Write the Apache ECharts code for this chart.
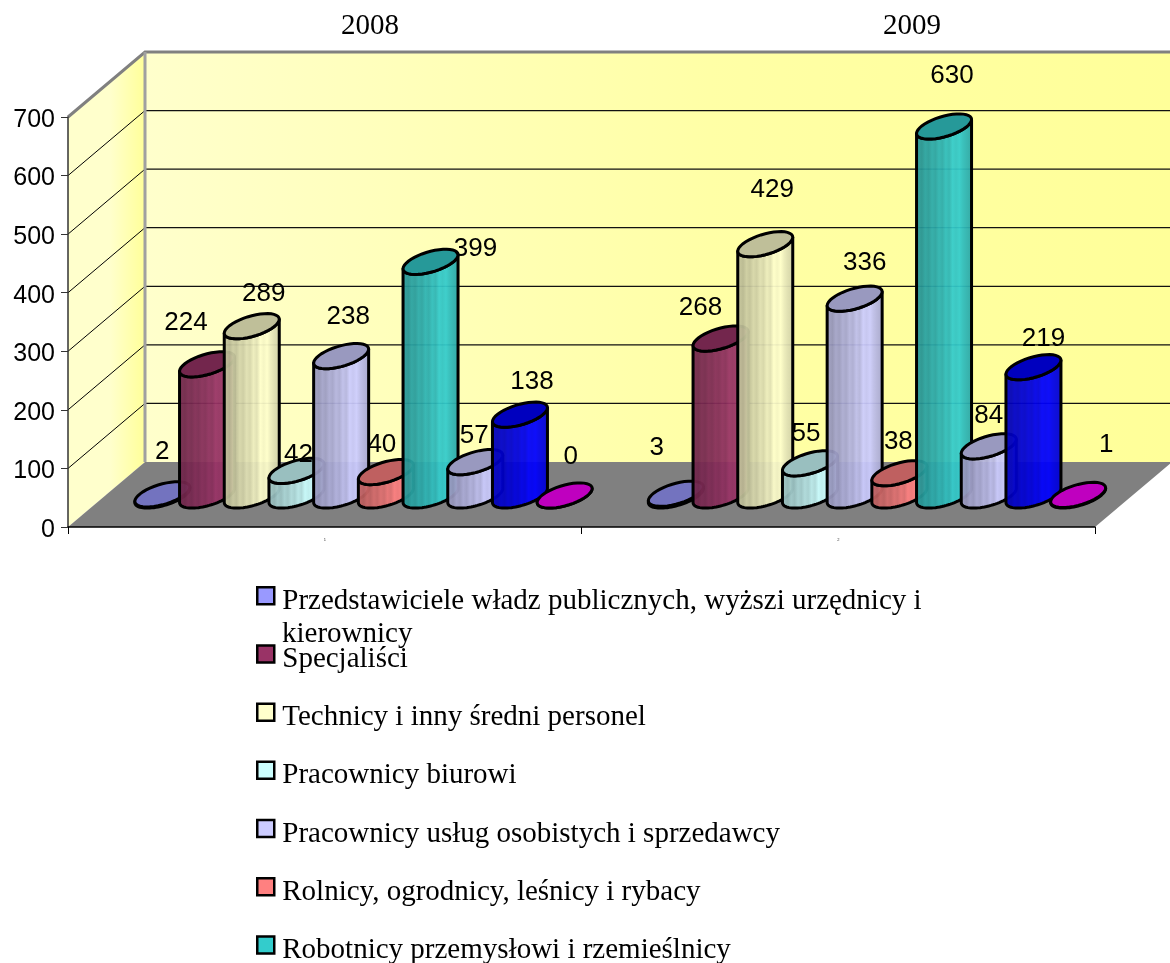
<!DOCTYPE html>
<html><head><meta charset="utf-8">
<style>html,body{margin:0;padding:0;background:#fff}#c{width:1170px;height:963px}</style>
<script src="https://cdn.jsdelivr.net/npm/echarts@6/dist/echarts.min.js"></script>
</head><body><div id="c"></div>
<script>
const categories = ['2008', '2009'];
const tickLabels = ['1', '2'];
const yTicks = [0, 100, 200, 300, 400, 500, 600, 700];
const seriesNames = [
  'Przedstawiciele władz publicznych, wyższi urzędnicy i',
  'Specjaliści',
  'Technicy i inny średni personel',
  'Pracownicy biurowi',
  'Pracownicy usług osobistych i sprzedawcy',
  'Rolnicy, ogrodnicy, leśnicy i rybacy',
  'Robotnicy przemysłowi i rzemieślnicy',
  'Seria 8', 'Seria 9', 'Seria 10'
];
const values2008 = [2, 224, 289, 42, 238, 40, 399, 57, 138, 0];
const values2009 = [3, 268, 429, 55, 336, 38, 630, 84, 219, 1];
const colors = ['#9999FF', '#993366', '#FFFFCC', '#CCFFFF', '#CCCCFF', '#FF8080', '#33CCCC', '#CCCCFF', '#0000FF', '#FF00FF'];
// label nudges from the top centre of each cylinder
const nudge2008 = [[0,-46],[-21,-45],[12,-36],[2,-20],[7,-43],[-4,-31],[45,-16],[-1,-30],[12,-36],[6,-42]];
const nudge2009 = [[-19,-49],[-20,-34],[7,-58],[-4,-33],[10,-39],[-1,-35],[8,-54],[0,-34],[10,-32],[28,-54]];
const legendRows = [597.5, 655.7, 713.9, 772.1, 830.3, 888.5, 946.7];

const DX = 77, DY = 65;        // 3D depth of the box
const BAR_DX = 38.75, BAR_DY = 31.5, STEP = 44.7, A = 27.5, B = 10.5, K = 7;
const shade = [.72,.76,.72,.8,.76,.84,.8,.88,.84,.93,.88,1,.96,1,.93,.88,.84,.78];
const sans = '"Liberation Sans", Arial, sans-serif';
const serif = '"Liberation Serif", "Times New Roman", serif';

function mix(hex, f, a) {
  const n = parseInt(hex.slice(1), 16);
  return 'rgba(' + [(n >> 16) & 255, (n >> 8) & 255, n & 255].map(v => Math.round(v * f)).join(',') + ',' + a + ')';
}
function arc(cx, cy, from, to) {
  const pts = [];
  for (let s = 0; s <= 40; s++) {
    const t = from + (to - from) * s / 40;
    pts.push([cx + A * Math.cos(t), cy + B * Math.sin(t) - K * Math.cos(t)]);
  }
  return pts;
}
function cylinder(i) {
  const vals = [values2008[i], values2009[i]], nudges = [nudge2008[i], nudge2009[i]];
  return (params, api) => {
    const c = params.dataIndex, top = api.coord([c, vals[c]]), zero = api.coord([c, 0]);
    const cx = top[0] + (i - 4.5) * STEP + BAR_DX, baseY = zero[1] - BAR_DY, topY = top[1] - BAR_DY;
    const stops = shade.map((f, k) => ({ offset: k / (shade.length - 1), color: mix(colors[i], f, .94) }));
    const body = arc(cx, baseY, Math.PI, 0).concat(arc(cx, topY, 0, Math.PI));
    return { type: 'group', children: [
      { type: 'polygon', shape: { points: body },
        style: { fill: { type: 'linear', x: 0, y: 0, x2: 1, y2: 0, colorStops: stops }, stroke: '#000', lineWidth: 3, lineJoin: 'round' } },
      { type: 'polygon', shape: { points: arc(cx, topY, 0, Math.PI * 2) },
        style: { fill: mix(colors[i], .75, 1), stroke: '#000', lineWidth: 3 } },
      { type: 'text', z2: 100, x: cx + nudges[c][0], y: topY + nudges[c][1] + 3.5,
        style: { text: String(vals[c]), fill: '#000', font: '26px ' + sans, align: 'center', verticalAlign: 'middle' } }
    ] };
  };
}
function box(params, api) {
  const g = params.coordSys, x0 = g.x, x1 = g.x + g.width;
  const y0 = api.coord([0, 0])[1], yT = api.coord([0, 700])[1];
  const xb = x0 + DX, yb = y0 - DY, ybT = yT - DY;
  const kids = [
    { type: 'polygon', shape: { points: [[xb, ybT], [x1 + DX, ybT], [x1 + DX, yb], [xb, yb]] },
      style: { fill: { type: 'linear', x: 0, y: 0, x2: 1, y2: 0, colorStops: [{ offset: 0, color: '#FFFFCC' }, { offset: .55, color: '#FFFFA6' }, { offset: 1, color: '#FFFF99' }] } } },
    { type: 'polygon', shape: { points: [[x0, yT], [xb, ybT], [xb, yb], [x0, y0]] },
      style: { fill: { type: 'linear', x: 0, y: 0, x2: 1, y2: 0, colorStops: [{ offset: 0, color: '#FFFFCC' }, { offset: .55, color: '#FFFFCC' }, { offset: 1, color: '#FFFF99' }] } } },
    { type: 'polygon', shape: { points: [[x0, y0], [x1, y0], [x1 + DX, yb], [xb, yb]] }, style: { fill: '#808080' } }
  ];
  yTicks.slice(1, -1).forEach(v => {
    const y = api.coord([0, v])[1];
    kids.push({ type: 'line', shape: { x1: x0, y1: y, x2: xb, y2: y - DY }, style: { stroke: '#000', lineWidth: 1 } });
    kids.push({ type: 'line', shape: { x1: xb, y1: y - DY, x2: x1 + DX, y2: y - DY }, style: { stroke: '#111', lineWidth: 1.2 } });
  });
  kids.push({ type: 'polyline', shape: { points: [[x0, yT], [xb, ybT], [x1 + DX, ybT]] }, style: { fill: 'none', stroke: '#808080', lineWidth: 3 } });
  kids.push({ type: 'line', shape: { x1: xb, y1: ybT, x2: xb, y2: yb }, style: { stroke: '#A0A0A0', lineWidth: 3 } });
  return { type: 'group', children: kids };
}

const chart = echarts.init(document.getElementById('c'), null, { renderer: 'canvas' });
chart.setOption({
  animation: false,
  grid: { left: 68, top: 117, width: 1027, height: 410, containLabel: false },
  xAxis: { type: 'category', data: tickLabels, z: 1,
    axisLine: { lineStyle: { color: '#000', width: 1.5 } },
    axisTick: { show: true, length: 7, lineStyle: { color: '#000' } },
    axisLabel: { fontSize: 4, color: '#333', margin: 11, fontFamily: sans } },
  yAxis: { type: 'value', min: 0, max: 700, interval: 100, z: 1,
    axisLine: { show: true, lineStyle: { color: '#333', width: 1.5 } },
    axisTick: { show: true, length: 7, lineStyle: { color: '#333' } },
    splitLine: { show: false },
    axisLabel: { margin: 13, formatter: '{t|{value}}',
      rich: { t: { fontSize: 25, color: '#000', fontFamily: sans, padding: [6, 0, 0, 0] } } } },
  legend: legendRows.map((y, i) => ({
    data: [seriesNames[i]], selectedMode: false, icon: 'rect', orient: 'vertical',
    left: 256, top: y - 11.5, padding: 0, itemWidth: 17, itemHeight: 17,
    itemStyle: { borderColor: '#000', borderWidth: 2.5 },
    formatter: n => '{t|' + n + '}',
    textStyle: { rich: { t: { fontFamily: serif, fontSize: 29, color: '#000', padding: [11, 0, 0, 3] } } }
  })),
  graphic: [
    { type: 'text', left: 341, top: 12, style: { text: categories[0], font: '29px ' + serif, fill: '#000' } },
    { type: 'text', left: 883, top: 12, style: { text: categories[1], font: '29px ' + serif, fill: '#000' } },
    { type: 'text', left: 282, top: 620, style: { text: 'kierownicy', font: '29px ' + serif, fill: '#000' } }
  ],
  series: [{ type: 'custom', name: 'box', z: 0, silent: true, data: [[0, 0]], encode: { x: 0, y: 1 }, renderItem: box }]
    .concat(seriesNames.map((name, i) => ({
      type: 'custom', name, z: 2, itemStyle: { color: colors[i] },
      data: [[0, values2008[i]], [1, values2009[i]]], encode: { x: 0, y: 1 }, renderItem: cylinder(i)
    })))
});
</script></body></html>
